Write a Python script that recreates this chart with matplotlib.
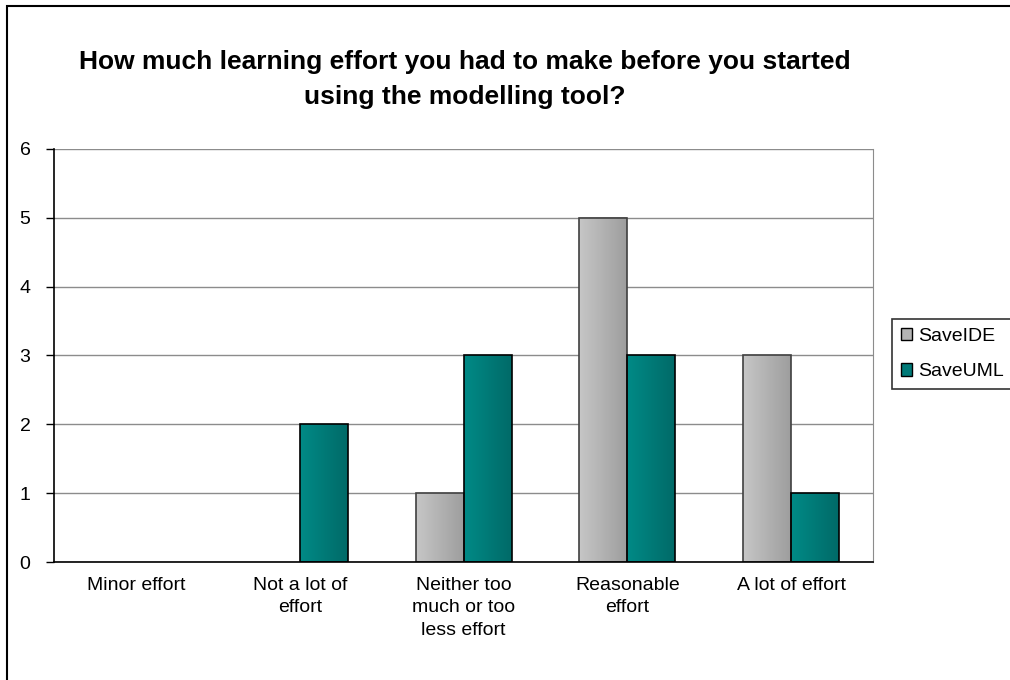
import numpy as np
import matplotlib
matplotlib.use("Agg")
import matplotlib.pyplot as plt
from matplotlib.patches import Rectangle, Patch
from matplotlib.colors import LinearSegmentedColormap

plt.rcParams['font.family'] = ['Liberation Sans', 'DejaVu Sans']

categories = ["Minor effort", "Not a lot of\neffort", "Neither too\nmuch or too\nless effort",
              "Reasonable\neffort", "A lot of effort"]
series_names = ["SaveIDE", "SaveUML"]
save_ide = [0, 0, 1, 5, 3]
save_uml = [0, 2, 3, 3, 1]
title_lines = ["How much learning effort you had to make before you started",
               "using the modelling tool?"]

# left -> right shading for each series, plus edge colour
shades = {
    "SaveIDE": (["#c6c6c6", "#9e9e9e"], "#404040"),
    "SaveUML": (["#008a86", "#006a68"], "#000000"),
}

fig = plt.figure(figsize=(10.1, 6.8), dpi=100)
ax = fig.add_axes([0.0535, 0.1735, 0.8109, 0.6075])

bw = 0.293
x = np.arange(len(categories))

def shaded_bar(ax, xc, h, cols, ec):
    if h <= 0:
        return
    cmap = LinearSegmentedColormap.from_list("g", cols)
    grad = np.linspace(0, 1, 64).reshape(1, -1)
    ax.imshow(grad, extent=[xc - bw / 2, xc + bw / 2, 0, h], aspect='auto',
              cmap=cmap, zorder=2, interpolation='bilinear')
    ax.add_patch(Rectangle((xc - bw / 2, 0), bw, h, fill=False, ec=ec, lw=1.2, zorder=3))

for i in range(len(categories)):
    shaded_bar(ax, x[i] - bw / 2, save_ide[i], *shades["SaveIDE"])
    shaded_bar(ax, x[i] + bw / 2, save_uml[i], *shades["SaveUML"])

ax.set_xlim(-0.5, len(categories) - 0.5)
ax.set_ylim(0, 6)
ax.set_yticks(range(0, 7))
ax.set_xticks(x)
ax.set_xticklabels(categories, fontsize=14, linespacing=1.4)
ax.tick_params(axis='x', length=0, pad=11)
ax.tick_params(axis='y', length=6, width=1, direction='out', pad=11, labelsize=14)
ax.yaxis.grid(True, color='#8c8c8c', lw=1)
ax.set_axisbelow(True)

for s in ['left', 'bottom']:
    ax.spines[s].set_color('black')
    ax.spines[s].set_linewidth(1.2)
ax.spines['right'].set_color('#8c8c8c')
ax.spines['top'].set_visible(False)
ax.spines['bottom'].set_zorder(4)

# title, two centred lines
fig.text(0.46, 1 - 69 / 680, title_lines[0], ha='center', va='baseline',
         fontsize=19, fontweight='bold')
fig.text(0.46, 1 - 104 / 680, title_lines[1], ha='center', va='baseline',
         fontsize=19, fontweight='bold')

handles = [Patch(facecolor='#b4b4b4', edgecolor='black', lw=1),
           Patch(facecolor='#007a78', edgecolor='black', lw=1)]
leg = fig.legend(handles, series_names, loc='upper left',
                 bbox_to_anchor=(892 / 1010, 1 - 319 / 680), borderaxespad=0,
                 fontsize=14, handlelength=0.6, handleheight=0.6, handletextpad=0.3,
                 labelspacing=0.95, borderpad=0.45, fancybox=False, frameon=True)
leg.get_frame().set_edgecolor('black')
leg.get_frame().set_linewidth(1.2)

# chart border (runs off the right and bottom)
fig.patches.append(Rectangle((6.5 / 1010, -0.1), 2, 1 - 6.5 / 680 + 0.1,
                             transform=fig.transFigure, fill=False, ec='black', lw=1.5))

fig.savefig("out.png", dpi=100)
